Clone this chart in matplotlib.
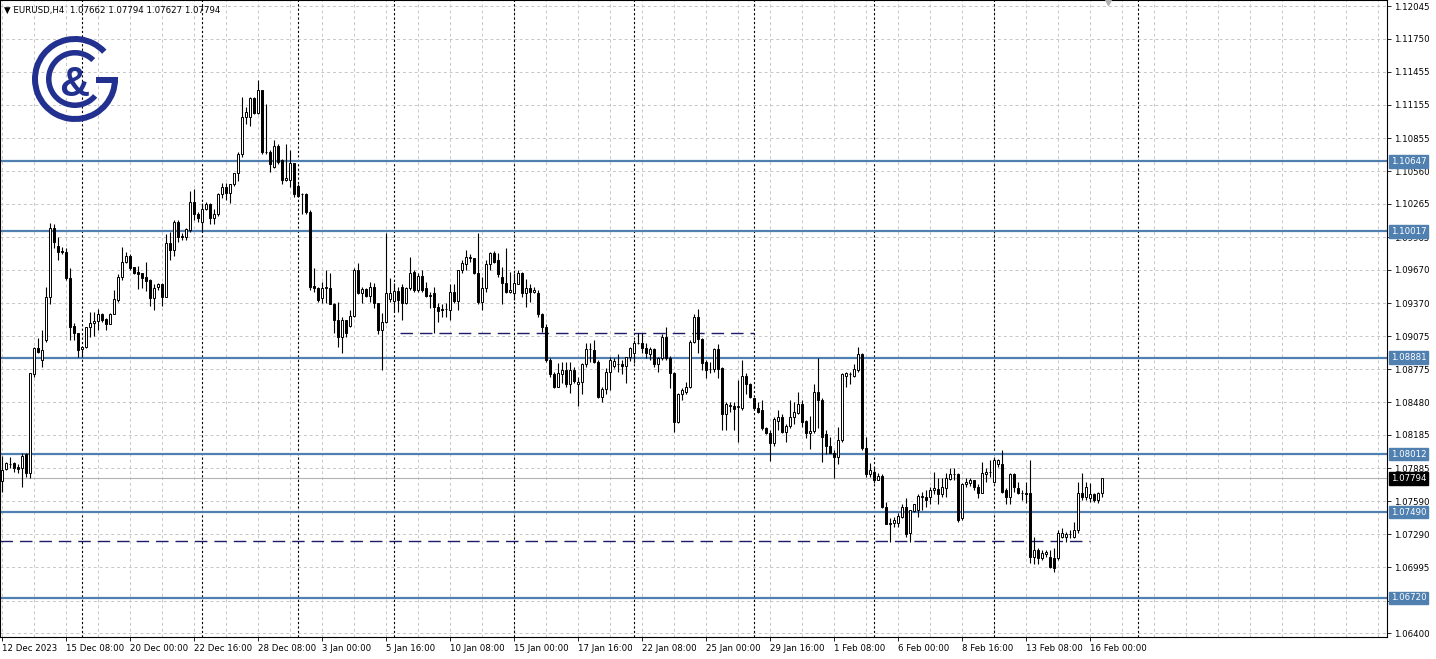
from matplotlib import pyplot as plt
from matplotlib.patches import Wedge, Rectangle
from matplotlib import transforms
import numpy as np

# --- Data (bar 0 = 12 Dec 2023 16:00) ---
opens = [
    1.0777, 1.0788, 1.0792, 1.0793, 1.0790, 1.0789, 1.0801, 1.0784, 1.0873, 1.0897,
    1.0886, 1.0904, 1.0943, 1.1005, 1.0989, 1.0984, 1.0983, 1.0960, 1.0917, 1.0910,
    1.0896, 1.0898, 1.0916, 1.0919, 1.0921, 1.0927, 1.0923, 1.0918, 1.0927, 1.0940,
    1.0961, 1.0974, 1.0980, 1.0970, 1.0965, 1.0964, 1.0961, 1.0958, 1.0942, 1.0952,
    1.0954, 1.0943, 1.0991, 1.0985, 1.1010, 1.0998, 1.0997, 1.1003, 1.1028, 1.1017,
    1.1010, 1.1022, 1.1026, 1.1014, 1.1017, 1.1035, 1.1042, 1.1036, 1.1044, 1.1054,
    1.1071, 1.1105, 1.1105, 1.1122, 1.1108, 1.1129, 1.1073, 1.1073, 1.1060, 1.1079,
    1.1066, 1.1048, 1.1048, 1.1063, 1.1043, 1.1035, 1.1035, 1.1019, 1.0953, 1.0951,
    1.0942, 1.0951, 1.0951, 1.0936, 1.0922, 1.0907, 1.0922, 1.0917, 1.0926, 1.0967,
    1.0946, 1.0950, 1.0944, 1.0952, 1.0937, 1.0913, 1.0920, 1.0941, 1.0939, 1.0948,
    1.0952, 1.0937, 1.0951, 1.0965, 1.0949, 1.0962, 1.0951, 1.0944, 1.0946, 1.0934,
    1.0932, 1.0932, 1.0931, 1.0947, 1.0939, 1.0967, 1.0972, 1.0978, 1.0978, 1.0964,
    1.0938, 1.0951, 1.0972, 1.0982, 1.0976, 1.0961, 1.0955, 1.0947, 1.0946, 1.0954,
    1.0964, 1.0946, 1.0951, 1.0947, 1.0946, 1.0927, 1.0916, 1.0886, 1.0873, 1.0862,
    1.0873, 1.0877, 1.0864, 1.0877, 1.0864, 1.0866, 1.0882, 1.0896, 1.0895, 1.0884,
    1.0853, 1.0860, 1.0875, 1.0881, 1.0882, 1.0882, 1.0881, 1.0889, 1.0892, 1.0901,
    1.0901, 1.0897, 1.0891, 1.0896, 1.0882, 1.0888, 1.0907, 1.0888, 1.0874, 1.0830,
    1.0855, 1.0857, 1.0862, 1.0902, 1.0925, 1.0905, 1.0884, 1.0878, 1.0878, 1.0896,
    1.0879, 1.0837, 1.0845, 1.0845, 1.0844, 1.0843, 1.0872, 1.0864, 1.0852, 1.0843,
    1.0841, 1.0825, 1.0820, 1.0811, 1.0831, 1.0835, 1.0821, 1.0827, 1.0835, 1.0838,
    1.0846, 1.0831, 1.0820, 1.0822, 1.0857, 1.0850, 1.0819, 1.0809, 1.0802, 1.0799,
    1.0814, 1.0872, 1.0873, 1.0872, 1.0877, 1.0891, 1.0807, 1.0783, 1.0785, 1.0778,
    1.0782, 1.0754, 1.0738, 1.0739, 1.0739, 1.0745, 1.0754, 1.0730, 1.0750, 1.0751,
    1.0763, 1.0763, 1.0763, 1.0769, 1.0770, 1.0765, 1.0771, 1.0779, 1.0783, 1.0783,
    1.0744, 1.0774, 1.0775, 1.0778, 1.0772, 1.0766, 1.0783, 1.0785, 1.0776, 1.0792,
    1.0792, 1.0769, 1.0763, 1.0783, 1.0771, 1.0766, 1.0766, 1.0766, 1.0709, 1.0715,
    1.0708, 1.0711, 1.0709, 1.0708, 1.0708, 1.0727, 1.0727, 1.0729, 1.0727, 1.0733,
    1.0766, 1.0763, 1.0762, 1.0765, 1.0760, 1.07662,
]
highs = [
    1.0800, 1.0794, 1.0799, 1.0794, 1.0792, 1.0802, 1.0802, 1.0874, 1.0898, 1.0906,
    1.0913, 1.0952, 1.1009, 1.1008, 1.0997, 1.0988, 1.0987, 1.0969, 1.0919, 1.0910,
    1.0899, 1.0916, 1.0929, 1.0929, 1.0932, 1.0928, 1.0924, 1.0928, 1.0949, 1.0963,
    1.0988, 1.0983, 1.0981, 1.0970, 1.0971, 1.0964, 1.0974, 1.0959, 1.0954, 1.0955,
    1.0955, 1.0999, 1.1001, 1.1012, 1.1012, 1.1000, 1.1005, 1.1038, 1.1040, 1.1019,
    1.1027, 1.1028, 1.1027, 1.1022, 1.1036, 1.1045, 1.1045, 1.1044, 1.1054, 1.1073,
    1.1123, 1.1114, 1.1123, 1.1123, 1.1138, 1.1129, 1.1116, 1.1075, 1.1084, 1.1080,
    1.1067, 1.1080, 1.1075, 1.1063, 1.1044, 1.1036, 1.1036, 1.1021, 1.0969, 1.0952,
    1.0956, 1.0967, 1.0964, 1.0937, 1.0938, 1.0925, 1.0922, 1.0931, 1.0969, 1.0973,
    1.0952, 1.0951, 1.0956, 1.0955, 1.0937, 1.0928, 1.1000, 1.0960, 1.0955, 1.0952,
    1.0954, 1.0952, 1.0979, 1.0967, 1.0964, 1.0967, 1.0956, 1.0947, 1.0952, 1.0937,
    1.0936, 1.0937, 1.0954, 1.0954, 1.0967, 1.0976, 1.0985, 1.0981, 1.0978, 1.1000,
    1.0961, 1.0976, 1.0983, 1.0984, 1.0982, 1.0970, 1.0987, 1.0965, 1.0964, 1.0967,
    1.0965, 1.0959, 1.0954, 1.0952, 1.0949, 1.0928, 1.0918, 1.0888, 1.0875, 1.0883,
    1.0884, 1.0884, 1.0884, 1.0880, 1.0871, 1.0883, 1.0901, 1.0901, 1.0904, 1.0886,
    1.0862, 1.0879, 1.0889, 1.0888, 1.0891, 1.0886, 1.0889, 1.0898, 1.0904, 1.0910,
    1.0910, 1.0901, 1.0898, 1.0897, 1.0889, 1.0909, 1.0916, 1.0890, 1.0875, 1.0856,
    1.0861, 1.0866, 1.0904, 1.0927, 1.0932, 1.0906, 1.0886, 1.0884, 1.0897, 1.0900,
    1.0880, 1.0848, 1.0848, 1.0848, 1.0868, 1.0886, 1.0874, 1.0865, 1.0852, 1.0848,
    1.0850, 1.0826, 1.0823, 1.0835, 1.0841, 1.0837, 1.0828, 1.0850, 1.0848, 1.0857,
    1.0850, 1.0832, 1.0836, 1.0864, 1.0888, 1.0852, 1.0823, 1.0817, 1.0805, 1.0826,
    1.0874, 1.0875, 1.0875, 1.0882, 1.0898, 1.0892, 1.0817, 1.0793, 1.0790, 1.0784,
    1.0783, 1.0758, 1.0744, 1.0745, 1.0748, 1.0756, 1.0762, 1.0751, 1.0756, 1.0765,
    1.0767, 1.0769, 1.0772, 1.0785, 1.0780, 1.0780, 1.0784, 1.0789, 1.0789, 1.0784,
    1.0775, 1.0780, 1.0780, 1.0778, 1.0774, 1.0794, 1.0789, 1.0796, 1.0798, 1.0797,
    1.0805, 1.0771, 1.0784, 1.0784, 1.0776, 1.0769, 1.0776, 1.0796, 1.0727, 1.0717,
    1.0715, 1.0715, 1.0715, 1.0717, 1.0733, 1.0735, 1.0731, 1.0733, 1.0740, 1.0776,
    1.0784, 1.0776, 1.0775, 1.0766, 1.0767, 1.07794,
]
lows = [
    1.0767, 1.0787, 1.0789, 1.0785, 1.0784, 1.0772, 1.0781, 1.0780, 1.0871, 1.0892,
    1.0880, 1.0902, 1.0936, 1.0987, 1.0976, 1.0981, 1.0958, 1.0904, 1.0904, 1.0889,
    1.0889, 1.0897, 1.0907, 1.0908, 1.0913, 1.0920, 1.0913, 1.0918, 1.0927, 1.0938,
    1.0958, 1.0973, 1.0967, 1.0963, 1.0950, 1.0951, 1.0948, 1.0935, 1.0931, 1.0949,
    1.0935, 1.0943, 1.0976, 1.0980, 1.0992, 1.0994, 1.0994, 1.1001, 1.1012, 1.1010,
    1.1001, 1.1021, 1.1008, 1.1008, 1.1016, 1.1032, 1.1030, 1.1027, 1.1043, 1.1047,
    1.1069, 1.1098, 1.1097, 1.1107, 1.1107, 1.1071, 1.1071, 1.1055, 1.1059, 1.1062,
    1.1044, 1.1047, 1.1042, 1.1033, 1.1033, 1.1017, 1.1017, 1.0949, 1.0947, 1.0938,
    1.0937, 1.0937, 1.0936, 1.0910, 1.0898, 1.0892, 1.0907, 1.0916, 1.0925, 1.0945,
    1.0937, 1.0943, 1.0938, 1.0933, 1.0909, 1.0877, 1.0919, 1.0938, 1.0929, 1.0929,
    1.0922, 1.0936, 1.0949, 1.0947, 1.0947, 1.0947, 1.0943, 1.0933, 1.0910, 1.0920,
    1.0925, 1.0925, 1.0922, 1.0937, 1.0931, 1.0964, 1.0967, 1.0974, 1.0963, 1.0936,
    1.0931, 1.0947, 1.0967, 1.0973, 1.0961, 1.0936, 1.0946, 1.0946, 1.0940, 1.0954,
    1.0943, 1.0934, 1.0938, 1.0946, 1.0925, 1.0911, 1.0884, 1.0871, 1.0861, 1.0862,
    1.0865, 1.0862, 1.0856, 1.0865, 1.0845, 1.0855, 1.0880, 1.0884, 1.0883, 1.0852,
    1.0848, 1.0855, 1.0859, 1.0879, 1.0875, 1.0873, 1.0865, 1.0885, 1.0883, 1.0900,
    1.0892, 1.0888, 1.0886, 1.0880, 1.0875, 1.0886, 1.0886, 1.0861, 1.0821, 1.0829,
    1.0850, 1.0855, 1.0861, 1.0901, 1.0892, 1.0877, 1.0870, 1.0874, 1.0875, 1.0870,
    1.0823, 1.0823, 1.0839, 1.0823, 1.0812, 1.0841, 1.0855, 1.0852, 1.0841, 1.0838,
    1.0823, 1.0819, 1.0795, 1.0809, 1.0823, 1.0820, 1.0812, 1.0825, 1.0828, 1.0837,
    1.0826, 1.0816, 1.0806, 1.0820, 1.0825, 1.0794, 1.0801, 1.0802, 1.0780, 1.0792,
    1.0812, 1.0862, 1.0864, 1.0871, 1.0875, 1.0805, 1.0781, 1.0781, 1.0775, 1.0778,
    1.0753, 1.0738, 1.0722, 1.0736, 1.0736, 1.0744, 1.0727, 1.0722, 1.0749, 1.0745,
    1.0751, 1.0754, 1.0756, 1.0765, 1.0756, 1.0763, 1.0763, 1.0778, 1.0778, 1.0740,
    1.0742, 1.0772, 1.0773, 1.0769, 1.0762, 1.0766, 1.0776, 1.0781, 1.0775, 1.0790,
    1.0766, 1.0756, 1.0756, 1.0767, 1.0765, 1.0760, 1.0757, 1.0703, 1.0702, 1.0702,
    1.0706, 1.0709, 1.0699, 1.0695, 1.0706, 1.0726, 1.0722, 1.0726, 1.0726, 1.0730,
    1.0760, 1.0760, 1.0758, 1.0758, 1.0757, 1.07627,
]
closes = [
    1.0787, 1.0793, 1.0792, 1.0789, 1.0788, 1.0800, 1.0784, 1.0874, 1.0897, 1.0893,
    1.0895, 1.0943, 1.1005, 1.0992, 1.0983, 1.0983, 1.0960, 1.0916, 1.0910, 1.0895,
    1.0898, 1.0916, 1.0919, 1.0921, 1.0927, 1.0922, 1.0918, 1.0927, 1.0941, 1.0961,
    1.0974, 1.0980, 1.0969, 1.0964, 1.0963, 1.0960, 1.0957, 1.0942, 1.0951, 1.0954,
    1.0943, 1.0991, 1.0985, 1.1010, 1.0997, 1.0997, 1.1004, 1.1028, 1.1017, 1.1014,
    1.1022, 1.1026, 1.1014, 1.1017, 1.1035, 1.1042, 1.1036, 1.1044, 1.1054, 1.1071,
    1.1105, 1.1109, 1.1122, 1.1108, 1.1129, 1.1073, 1.1073, 1.1062, 1.1079, 1.1064,
    1.1048, 1.1050, 1.1063, 1.1035, 1.1034, 1.1035, 1.1019, 1.0952, 1.0951, 1.0940,
    1.0951, 1.0951, 1.0936, 1.0922, 1.0907, 1.0922, 1.0910, 1.0926, 1.0967, 1.0946,
    1.0950, 1.0944, 1.0952, 1.0937, 1.0913, 1.0920, 1.0946, 1.0946, 1.0948, 1.0940,
    1.0937, 1.0951, 1.0964, 1.0949, 1.0962, 1.0949, 1.0944, 1.0944, 1.0934, 1.0930,
    1.0931, 1.0932, 1.0947, 1.0939, 1.0967, 1.0973, 1.0979, 1.0978, 1.0964, 1.0938,
    1.0951, 1.0972, 1.0982, 1.0974, 1.0963, 1.0955, 1.0947, 1.0949, 1.0955, 1.0964,
    1.0946, 1.0951, 1.0947, 1.0949, 1.0927, 1.0916, 1.0886, 1.0873, 1.0862, 1.0874,
    1.0877, 1.0864, 1.0877, 1.0867, 1.0866, 1.0882, 1.0896, 1.0896, 1.0884, 1.0853,
    1.0860, 1.0875, 1.0886, 1.0885, 1.0882, 1.0881, 1.0889, 1.0897, 1.0901, 1.0901,
    1.0897, 1.0892, 1.0896, 1.0882, 1.0888, 1.0907, 1.0888, 1.0874, 1.0830, 1.0855,
    1.0859, 1.0862, 1.0902, 1.0925, 1.0905, 1.0883, 1.0877, 1.0878, 1.0896, 1.0878,
    1.0837, 1.0846, 1.0845, 1.0842, 1.0844, 1.0872, 1.0864, 1.0853, 1.0843, 1.0839,
    1.0825, 1.0820, 1.0811, 1.0833, 1.0835, 1.0821, 1.0827, 1.0835, 1.0839, 1.0846,
    1.0830, 1.0820, 1.0822, 1.0857, 1.0850, 1.0817, 1.0809, 1.0802, 1.0799, 1.0814,
    1.0873, 1.0874, 1.0873, 1.0878, 1.0891, 1.0807, 1.0783, 1.0787, 1.0778, 1.0782,
    1.0754, 1.0738, 1.0739, 1.0742, 1.0746, 1.0754, 1.0729, 1.0751, 1.0756, 1.0764,
    1.0764, 1.0760, 1.0769, 1.0771, 1.0765, 1.0772, 1.0780, 1.0783, 1.0783, 1.0742,
    1.0774, 1.0776, 1.0778, 1.0772, 1.0766, 1.0784, 1.0785, 1.0785, 1.0796, 1.0796,
    1.0767, 1.0763, 1.0783, 1.0772, 1.0766, 1.0766, 1.0765, 1.0709, 1.0715, 1.0708,
    1.0712, 1.0713, 1.0700, 1.0699, 1.0730, 1.0730, 1.0729, 1.0729, 1.0733, 1.0766,
    1.0763, 1.0772, 1.0765, 1.0760, 1.0766, 1.07794,
]

time_labels = ["12 Dec 2023", "15 Dec 08:00", "20 Dec 00:00", "22 Dec 16:00", "28 Dec 08:00",
               "3 Jan 00:00", "5 Jan 16:00", "10 Jan 08:00", "15 Jan 00:00", "17 Jan 16:00",
               "22 Jan 08:00", "25 Jan 00:00", "29 Jan 16:00", "1 Feb 08:00", "6 Feb 00:00",
               "8 Feb 16:00", "13 Feb 08:00", "16 Feb 00:00"]
price_ticks = [1.12045, 1.11750, 1.11455, 1.11155, 1.10855, 1.10560, 1.10265, 1.09965, 1.09670,
               1.09370, 1.09075, 1.08775, 1.08480, 1.08185, 1.07885, 1.07590, 1.07290, 1.06995,
               1.06695, 1.06400]
levels = [1.10647, 1.10017, 1.08881, 1.08012, 1.07490, 1.06720]
last_price = 1.07794
dashed_upper = 1.0910      # from 5 Jan 16:00 to 29 Jan
dashed_lower = 1.0723      # across the whole range
separators = [20, 50, 74, 98, 128, 158, 188, 218, 248, 284]   # bar index of the dotted lines
header = "\u25BC EURUSD,H4  1.07662 1.07794 1.07627 1.07794"

# --- figure layout in pixels ---
W, H = 1436, 659
plot_w, plot_h = 1387, 637
top_price = 1.1210
per_px = 0.00009
level_col = "#4f80b0"
navy = "#22308f"
fs = 6.2

fig = plt.figure(figsize=(W / 100, H / 100), dpi=100)
fig.patch.set_facecolor("white")
ax = fig.add_axes([0, 1 - plot_h / H, plot_w / W, plot_h / H])
ax.set_xlim(-0.5, (plot_w - 2) / 4)
ax.set_ylim(top_price - plot_h * per_px, top_price)

# grid
for k in range(0, 350, 8):
    ax.axvline(k, color="#c6c6c6", lw=0.7, ls=(0, (3, 3)), zorder=0)
for p in price_ticks:
    ax.axhline(p, color="#c6c6c6", lw=0.7, ls=(0, (3, 3)), zorder=0)
for k in separators:
    ax.axvline(k, color="black", lw=0.8, ls=(0, (2, 2)), zorder=1)

# levels
for lv in levels:
    ax.axhline(lv, color=level_col, lw=1.6, zorder=1)
ax.axhline(last_price, color="#b4b4b4", lw=0.8, zorder=1)
ax.hlines(dashed_upper, 99.5, 188, color="#1c1c6a", lw=1.0, ls=(0, (9, 5)), zorder=1)
ax.hlines(dashed_lower, -0.5, 272, color="#1c1c6a", lw=1.0, ls=(0, (9, 5)), zorder=1)

# candles
o = np.array(opens); h = np.array(highs); l = np.array(lows); c = np.array(closes)
idx = np.arange(len(c))
up = c >= o
ax.vlines(idx, l, h, color="black", lw=0.8, zorder=2)
bottom = np.minimum(o, c)
height = np.maximum(np.abs(c - o), 0.00003)
ax.bar(idx[up], height[up], bottom=bottom[up], width=0.6, color="white",
       edgecolor="black", lw=0.7, zorder=3)
ax.bar(idx[~up], height[~up], bottom=bottom[~up], width=0.6, color="black",
       edgecolor="black", lw=0.7, zorder=3)

# axes
for s in ax.spines.values():
    s.set_color("black")
    s.set_linewidth(0.8)
ax.yaxis.tick_right()
ax.set_yticks(price_ticks)
# the 1.06695 label sits behind the 1.06720 tag in the original, so it is not printed
ax.set_yticklabels(["" if p == 1.06695 else f"{p:.5f}" for p in price_ticks])
ax.set_xticks(np.arange(len(time_labels)) * 16)
ax.set_xticklabels(time_labels)
ax.tick_params(axis="both", labelsize=fs, length=3, width=0.6, pad=2, colors="black")
for t in ax.get_xticklabels():
    t.set_ha("left")

trans = transforms.blended_transform_factory(ax.transAxes, ax.transData)
for lv in levels:
    ax.text(1.0 + 4 / plot_w, lv, f"{lv:.5f}", transform=trans, fontsize=fs, color="white",
            va="center", ha="left", zorder=5,
            bbox=dict(boxstyle="square,pad=0.2", fc=level_col, ec=level_col))
ax.text(1.0 + 4 / plot_w, last_price, f"{last_price:.5f}", transform=trans, fontsize=fs,
        color="white", va="center", ha="left", zorder=5,
        bbox=dict(boxstyle="square,pad=0.2", fc="black", ec="black"))

# header + logo in pixel coordinates
ov = fig.add_axes([0, 0, 1, 1], zorder=10)
ov.set_xlim(0, W)
ov.set_ylim(H, 0)
ov.axis("off")
ov.patch.set_alpha(0)
ov.text(4, 10, header, fontsize=fs, va="center", ha="left", color="black")
ov.add_patch(Wedge((75, 79), 43, 0, 317, width=6, fc=navy, ec="none"))
ov.add_patch(Wedge((75, 79), 29, 40, 314, width=5.5, fc=navy, ec="none"))
ov.add_patch(Rectangle((96, 76.5), 22, 6, fc=navy, ec="none"))
ov.text(74, 85, "&", fontsize=30, fontweight="bold", color=navy, ha="center", va="center",
        family="Liberation Sans")
ov.plot([1108], [2], marker="v", color="#b0b0b0", markersize=4)

fig.savefig("out.png", dpi=100)
